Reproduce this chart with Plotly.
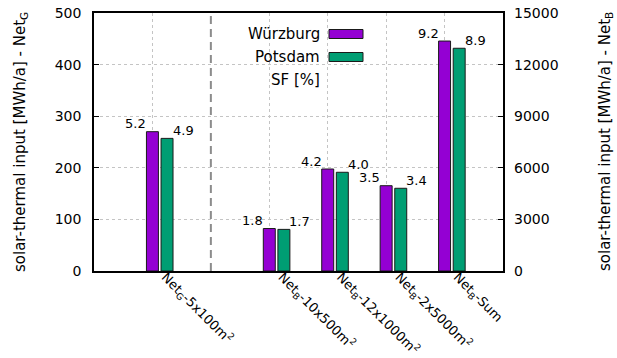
import plotly.graph_objects as go

# Category positions on the numeric x axis (position 1 holds the divider)
categories = ["Net<sub>G</sub>-5x100m<sup>2</sup>",
              "Net<sub>B</sub>-10x500m<sup>2</sup>",
              "Net<sub>B</sub>-12x1000m<sup>2</sup>",
              "Net<sub>B</sub>-2x5000m<sup>2</sup>",
              "Net<sub>B</sub>-Sum"]
positions = [0, 2, 3, 4, 5]

# Solar-thermal input [MWh/a]; Net_G on the left axis, Net_B on the right axis
wuerzburg_netg = [270]
potsdam_netg = [257]
wuerzburg_netb = [2470, 5930, 4960, 13370]
potsdam_netb = [2420, 5740, 4810, 12950]

# Solar fraction SF [%]
sf_wuerzburg = [5.2, 1.8, 4.2, 3.5, 9.2]
sf_potsdam = [4.9, 1.7, 4.0, 3.4, 8.9]

left_ticks = [0, 100, 200, 300, 400, 500]
right_ticks = [0, 3000, 6000, 9000, 12000, 15000]

PURPLE = "#9400D3"
GREEN = "#009E73"
FONT = "DejaVu Sans"
BW = 0.205
LABEL_NUDGE = 0.22  # rotated category labels start a little right of the grid line

fig = go.Figure()

def add_bars(xs, ys, color, offset, axis, name):
    fig.add_trace(go.Bar(
        x=xs, y=ys, name=name, yaxis=axis, width=BW, offset=offset,
        marker=dict(color=color, line=dict(color="#1a1a1a", width=1)),
        showlegend=False))

add_bars(positions[:1], wuerzburg_netg, PURPLE, -BW / 2, "y", "Würzburg")
add_bars(positions[1:], wuerzburg_netb, PURPLE, -BW / 2, "y2", "Würzburg")
add_bars(positions[:1], potsdam_netg, GREEN, 0.25 - BW / 2, "y", "Potsdam")
add_bars(positions[1:], potsdam_netb, GREEN, 0.25 - BW / 2, "y2", "Potsdam")

# SF labels above each bar
annotations = []
w_vals = wuerzburg_netg + wuerzburg_netb
p_vals = potsdam_netg + potsdam_netb
for i, x in enumerate(positions):
    ref = "y" if i == 0 else "y2"
    annotations.append(dict(x=x, y=w_vals[i], xref="x", yref=ref,
                            text=f"{sf_wuerzburg[i]:.1f}", showarrow=False,
                            xshift=-16.5, yshift=8, yanchor="middle",
                            font=dict(family=FONT, size=13, color="#000")))
    annotations.append(dict(x=x + 0.25, y=p_vals[i], xref="x", yref=ref,
                            text=f"{sf_potsdam[i]:.1f}", showarrow=False,
                            xshift=16, yshift=8, yanchor="middle",
                            font=dict(family=FONT, size=13, color="#000")))

# Axis titles
annotations.append(dict(x=0, y=0.5, xref="paper", yref="paper", xshift=-74,
                        text="solar-thermal input [MWh/a] - Net<sub>G</sub>",
                        textangle=-90, showarrow=False, xanchor="center", yanchor="middle",
                        font=dict(family=FONT, size=15, color="#000")))
annotations.append(dict(x=1, y=0.5, xref="paper", yref="paper", xshift=102,
                        text="solar-thermal input [MWh/a] - Net<sub>B</sub>",
                        textangle=-90, showarrow=False, xanchor="center", yanchor="middle",
                        font=dict(family=FONT, size=15, color="#000")))

# Legend block (text right-aligned, colour key to its right)
legend_rows = [("Würzburg", PURPLE), ("Potsdam", GREEN), ("SF [%]", None)]
W, H = 617, 358
ML, MR, MT, MB = 94, 114, 13, 87
pw, ph = W - ML - MR, H - MT - MB
shapes = []
for k, (label, color) in enumerate(legend_rows):
    yc = 34 + 23 * k
    annotations.append(dict(x=(322 - ML) / pw, y=1 - (yc - MT) / ph,
                            xref="paper", yref="paper", text=label, showarrow=False,
                            xanchor="right", yanchor="middle",
                            font=dict(family=FONT, size=15, color="#000")))
    if color:
        shapes.append(dict(type="rect", xref="paper", yref="paper",
                           x0=(329 - ML) / pw, x1=(363 - ML) / pw,
                           y0=1 - (yc - 4.5 - MT) / ph, y1=1 - (yc + 4.5 - MT) / ph,
                           fillcolor=color, line=dict(color="#1a1a1a", width=1)))

# Dashed divider between Net_G and Net_B groups
shapes.append(dict(type="line", xref="x", yref="paper", x0=1, x1=1, y0=0, y1=1,
                   line=dict(color="#8c8c8c", width=2, dash="8px,5px"), layer="below"))

GRID = dict(showgrid=True, gridcolor="#c4c4c4", griddash="dot", gridwidth=1)

fig.update_layout(
    width=W, height=H, margin=dict(l=ML, r=MR, t=MT, b=MB),
    paper_bgcolor="white", plot_bgcolor="white", barmode="overlay",
    font=dict(family=FONT, size=14, color="#000"),
    annotations=annotations, shapes=shapes,
    xaxis=dict(range=[-1, 6], tickvals=positions, showticklabels=False,
               showline=True, linecolor="#000", linewidth=1.5, mirror=True,
               ticks="", zeroline=False, automargin=False, **GRID),
    # label-only axis carrying the rotated category names
    xaxis2=dict(range=[-1, 6], overlaying="x", side="bottom", anchor="y",
                tickvals=[p + LABEL_NUDGE for p in positions], ticktext=categories,
                tickangle=45, tickfont=dict(size=13), ticklabelstandoff=-5,
                showgrid=False, showline=False, zeroline=False, ticks="",
                automargin=False),
    yaxis=dict(range=[0, 500], tickvals=left_ticks, ticktext=[str(v) for v in left_ticks],
               showline=True, linecolor="#000", linewidth=1.5, mirror=True,
               ticks="inside", ticklen=5, tickcolor="#000", zeroline=False,
               ticklabelstandoff=8, tickfont=dict(size=14), automargin=False, **GRID),
    yaxis2=dict(range=[0, 15000], tickvals=right_ticks, ticktext=[str(v) for v in right_ticks],
                overlaying="y", side="right", showgrid=False, zeroline=False,
                ticks="inside", ticklen=5, tickcolor="#000", automargin=False,
                ticklabelstandoff=10, tickfont=dict(size=14)),
)

# an invisible trace keeps the label axis active
fig.add_trace(go.Scatter(x=[-1], y=[0], xaxis="x2", yaxis="y", mode="markers",
                         marker=dict(opacity=0), hoverinfo="skip", showlegend=False))

fig.write_html("out.html")
